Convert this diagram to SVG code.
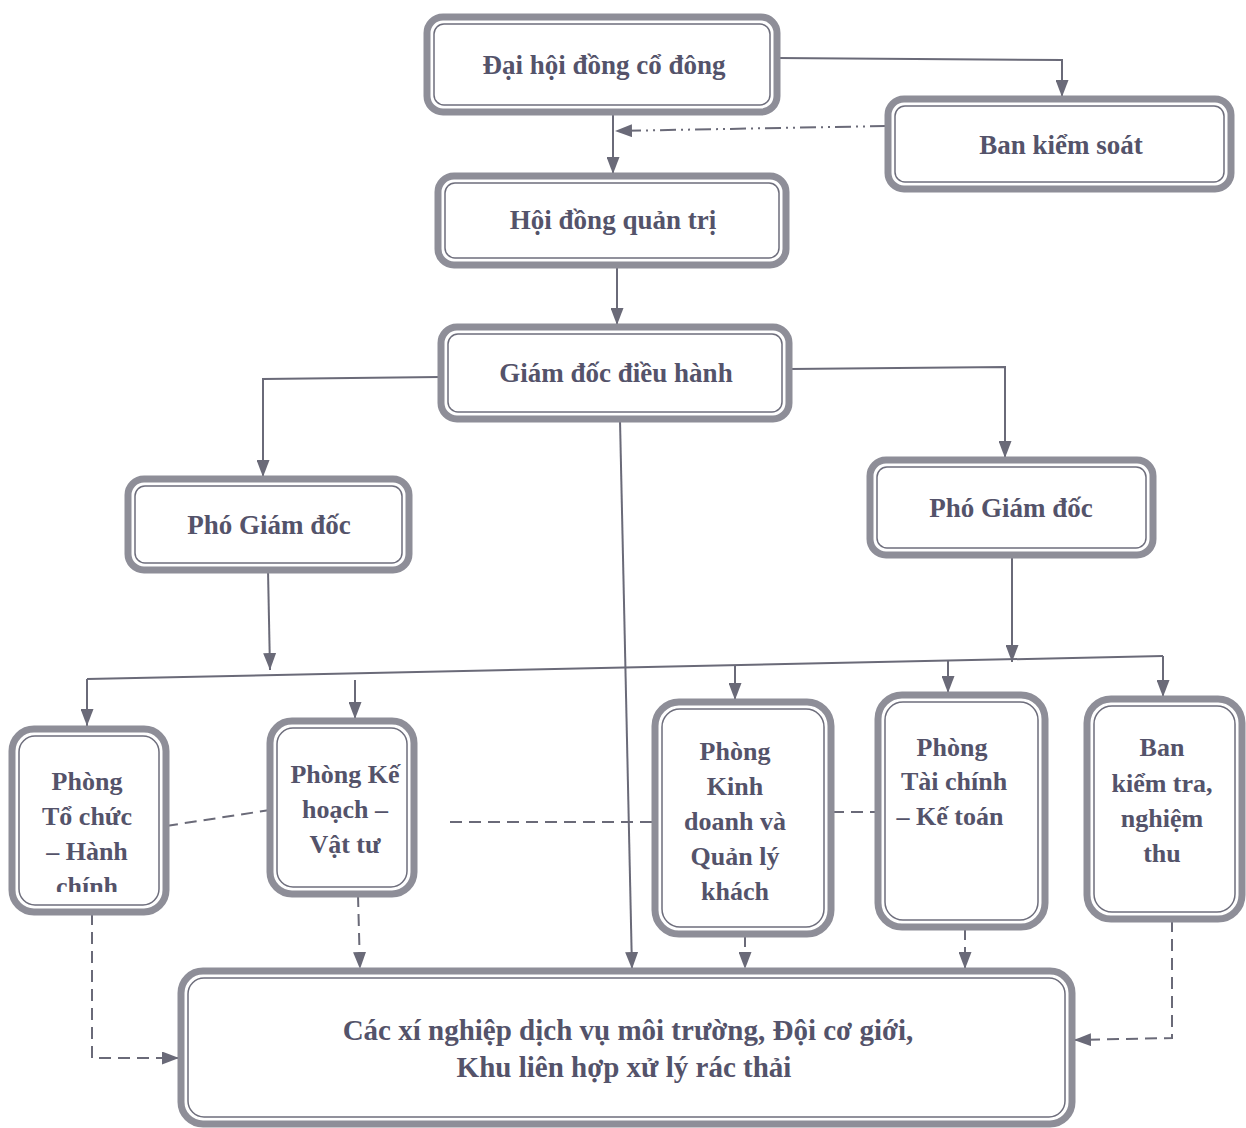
<svg xmlns="http://www.w3.org/2000/svg" width="1246" height="1128" viewBox="0 0 1246 1128">
<style>
.o{fill:#fff;stroke:#8e8e98;stroke-width:7}
.i{fill:none;stroke:#6e6e7c;stroke-width:1.5}
.t{font-family:"Liberation Serif","Times New Roman",serif;font-weight:bold;font-size:26px;fill:#54536a;text-anchor:middle}
.big{font-size:27px}
.xl{font-size:29px}
.c{fill:none;stroke:#6a6a78;stroke-width:2}
.d{stroke-dasharray:12 7}
.dd{stroke-dasharray:16 5 2 5 2 5}
</style>
<defs>
<marker id="ar" markerUnits="userSpaceOnUse" markerWidth="17" markerHeight="13" refX="17" refY="6.5" orient="auto">
<path d="M0,0 L17,6.5 L0,13 z" fill="#6a6a78"/>
</marker>
<clipPath id="cg"><rect x="16" y="736" width="144" height="156"/></clipPath>
</defs>
<rect width="1246" height="1128" fill="#fff"/>
<g id="connectors">
<path class="c" d="M777,58 L1062,60 L1062,97" marker-end="url(#ar)"/>
<path class="c" d="M613,112 L613,174" marker-end="url(#ar)"/>
<path class="c dd" d="M886,126 L615,131" marker-end="url(#ar)"/>
<path class="c" d="M617,265 L617,325" marker-end="url(#ar)"/>
<path class="c" d="M440,377 L263,379 L263,477" marker-end="url(#ar)"/>
<path class="c" d="M790,369 L1005,367 L1005,458" marker-end="url(#ar)"/>
<path class="c" d="M620,420 L632,969" marker-end="url(#ar)"/>
<path class="c" d="M268,570 L270,670" marker-end="url(#ar)"/>
<path class="c" d="M1012,555 L1012,662" marker-end="url(#ar)"/>
<path class="c" d="M87,679 L1163,656"/>
<path class="c" d="M87,679 L87,726" marker-end="url(#ar)"/>
<path class="c" d="M355,680 L355,719" marker-end="url(#ar)"/>
<path class="c" d="M735,665 L735,700" marker-end="url(#ar)"/>
<path class="c" d="M948,661 L948,693" marker-end="url(#ar)"/>
<path class="c" d="M1163,656 L1163,697" marker-end="url(#ar)"/>
<path class="c d" d="M166,826 L270,810"/>
<path class="c d" d="M450,822 L655,822"/>
<path class="c d" d="M832,812 L876,812"/>
<path class="c d" d="M92,913 L92,1058 L179,1058" marker-end="url(#ar)"/>
<path class="c d" d="M358,895 L360,969" marker-end="url(#ar)"/>
<path class="c d" d="M745,935 L745,969" marker-end="url(#ar)"/>
<path class="c d" d="M965,928 L965,969" marker-end="url(#ar)"/>
<path class="c d" d="M1172,920 L1172,1038 L1074,1040" marker-end="url(#ar)"/>
</g>
<g id="n-daihoi">
<rect class="o" x="427" y="17" width="350" height="95" rx="16"/>
<rect class="i" x="434" y="24" width="336" height="81" rx="10"/>
<text class="t big" x="604" y="74">Đại hội đồng cổ đông</text>
</g>
<g id="n-bankiemsoat">
<rect class="o" x="888" y="99" width="343" height="90" rx="16"/>
<rect class="i" x="895" y="106" width="329" height="76" rx="10"/>
<text class="t big" x="1061" y="154">Ban kiểm soát</text>
</g>
<g id="n-hdqt">
<rect class="o" x="438" y="176" width="348" height="89" rx="16"/>
<rect class="i" x="445" y="183" width="334" height="75" rx="10"/>
<text class="t big" x="613" y="229">Hội đồng quản trị</text>
</g>
<g id="n-gd">
<rect class="o" x="441" y="327" width="348" height="92" rx="16"/>
<rect class="i" x="448" y="334" width="334" height="78" rx="10"/>
<text class="t big" x="616" y="382">Giám đốc điều hành</text>
</g>
<g id="n-pgd1">
<rect class="o" x="128" y="479" width="281" height="91" rx="16"/>
<rect class="i" x="135" y="486" width="267" height="77" rx="10"/>
<text class="t big" x="269" y="534">Phó Giám đốc</text>
</g>
<g id="n-pgd2">
<rect class="o" x="870" y="460" width="283" height="95" rx="16"/>
<rect class="i" x="877" y="467" width="269" height="81" rx="10"/>
<text class="t big" x="1011" y="517">Phó Giám đốc</text>
</g>
<g id="n-tochuc">
<rect class="o" x="12" y="729" width="154" height="183" rx="22"/>
<text class="t" x="87" y="790">Phòng</text>
<text class="t" x="87" y="825">Tổ chức</text>
<text class="t" x="87" y="860">– Hành</text>
<text class="t" x="87" y="895" clip-path="url(#cg)">chính</text>
<rect class="i" x="19" y="736" width="140" height="169" rx="16"/>
</g>
<g id="n-kehoach">
<rect class="o" x="270" y="721" width="144" height="173" rx="22"/>
<rect class="i" x="277" y="728" width="130" height="159" rx="16"/>
<text class="t" x="345" y="783">Phòng Kế</text>
<text class="t" x="345" y="818">hoạch –</text>
<text class="t" x="345" y="853">Vật tư</text>
</g>
<g id="n-kinhdoanh">
<rect class="o" x="655" y="702" width="176" height="232" rx="24"/>
<rect class="i" x="662" y="709" width="162" height="218" rx="18"/>
<text class="t" x="735" y="760">Phòng</text>
<text class="t" x="735" y="795">Kinh</text>
<text class="t" x="735" y="830">doanh và</text>
<text class="t" x="735" y="865">Quản lý</text>
<text class="t" x="735" y="900">khách</text>
</g>
<g id="n-taichinh">
<rect class="o" x="878" y="695" width="167" height="232" rx="24"/>
<rect class="i" x="885" y="702" width="153" height="218" rx="18"/>
<text class="t" x="952" y="756">Phòng</text>
<text class="t" x="954" y="790">Tài chính</text>
<text class="t" x="950" y="825">– Kế toán</text>
</g>
<g id="n-kiemtra">
<rect class="o" x="1087" y="699" width="155" height="220" rx="24"/>
<rect class="i" x="1094" y="706" width="141" height="206" rx="18"/>
<text class="t" x="1162" y="756">Ban</text>
<text class="t" x="1162" y="792">kiểm tra,</text>
<text class="t" x="1162" y="827">nghiệm</text>
<text class="t" x="1162" y="862">thu</text>
</g>
<g id="n-xinghiep">
<rect class="o" x="181" y="971" width="891" height="153" rx="22"/>
<rect class="i" x="188" y="978" width="877" height="139" rx="16"/>
<text class="t xl" x="628" y="1040">Các xí nghiệp dịch vụ môi trường, Đội cơ giới,</text>
<text class="t xl" x="624" y="1077">Khu liên hợp xử lý rác thải</text>
</g>
</svg>
